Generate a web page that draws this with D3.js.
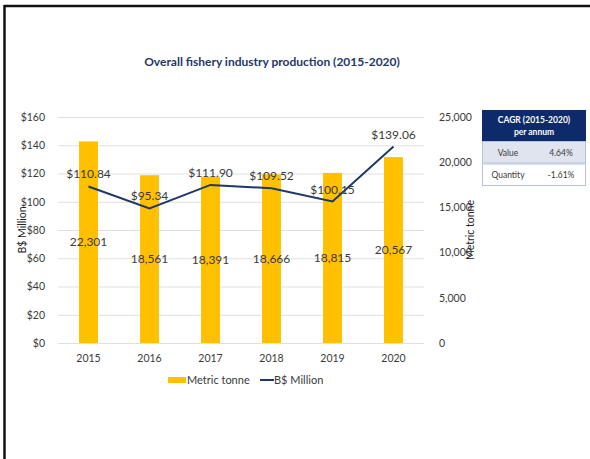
<!DOCTYPE html>
<html>
<head>
<meta charset="utf-8">
<script src="https://cdn.jsdelivr.net/npm/d3@7"></script>
<style>
  html, body { margin: 0; padding: 0; background: #fff; }
  svg { display: block; font-family: Lato, "Open Sans", sans-serif; }
</style>
</head>
<body>
<svg id="chart" width="590" height="459"></svg>
<script>
// Fishery production data, 2015-2020
const years = ["2015", "2016", "2017", "2018", "2019", "2020"];
const tonnes = [22301, 18561, 18391, 18666, 18815, 20567];     // Metric tonne (bars, right axis)
const valueMillions = [110.84, 95.34, 111.90, 109.52, 100.15, 139.06]; // B$ Million (line, left axis)
const leftTicks = [0, 20, 40, 60, 80, 100, 120, 140, 160];
const rightTicks = [0, 5000, 10000, 15000, 20000, 25000];
const cagrRows = [["Value", "4.64%"], ["Quantity", "-1.61%"]];

const svg = d3.select("#chart");
const navy = "#1f3864";
const gold = "#ffc000";
const textGrey = "#3a3a3a";

// Frame lines
svg.append("line").attr("x1", 4.5).attr("x2", 4.5).attr("y1", 5).attr("y2", 459)
  .attr("stroke", "#111").attr("stroke-width", 2.5);
svg.append("line").attr("x1", 4).attr("x2", 590).attr("y1", 6).attr("y2", 6)
  .attr("stroke", "#111").attr("stroke-width", 2.5);

// Title
svg.append("text").attr("x", 272).attr("y", 66).attr("text-anchor", "middle")
  .attr("font-size", 12).attr("font-weight", "bold").attr("fill", navy)
  .text("Overall fishery industry production (2015-2020)");

const plot = { left: 58, right: 424, top: 117, bottom: 343 };

const x = d3.scaleBand().domain(years).range([plot.left, plot.right]).paddingInner(0.69).paddingOuter(0.345);
const yL = d3.scaleLinear().domain([0, 160]).range([plot.bottom, plot.top]);
const yR = d3.scaleLinear().domain([0, 25000]).range([plot.bottom, plot.top]);

// Gridlines
svg.append("g").selectAll("line").data(leftTicks).join("line")
  .attr("x1", plot.left).attr("x2", plot.right)
  .attr("y1", d => yL(d) + 0.5).attr("y2", d => yL(d) + 0.5)
  .attr("stroke", "#e0e0e0").attr("stroke-width", 1);

// Left axis
const axL = svg.append("g").attr("transform", `translate(${plot.left - 10},0)`)
  .call(d3.axisLeft(yL).tickValues(leftTicks).tickSize(0).tickFormat(d => "$" + d));
axL.select(".domain").remove();
axL.selectAll("text").attr("font-size", 10.5).attr("fill", textGrey).attr("font-family", "Lato, sans-serif");

// Right axis
const axR = svg.append("g").attr("transform", `translate(${plot.right + 12},0)`)
  .call(d3.axisRight(yR).tickValues(rightTicks).tickSize(0).tickFormat(d3.format(",")));
axR.select(".domain").remove();
axR.selectAll("text").attr("font-size", 10.5).attr("fill", textGrey).attr("font-family", "Lato, sans-serif").attr("dx", 0);

// Bottom axis
const axB = svg.append("g").attr("transform", `translate(0,${plot.bottom + 9})`)
  .call(d3.axisBottom(x).tickSize(0));
axB.select(".domain").remove();
axB.selectAll("text").attr("font-size", 10.5).attr("fill", textGrey).attr("font-family", "Lato, sans-serif");

// Axis titles
svg.append("text").attr("transform", `translate(26,${(plot.top + plot.bottom) / 2}) rotate(-90)`)
  .attr("text-anchor", "middle").attr("font-size", 10.5).attr("fill", "#222").text("B$ Million");
svg.append("text").attr("transform", `translate(474,${(plot.top + plot.bottom) / 2}) rotate(-90)`)
  .attr("text-anchor", "middle").attr("font-size", 10.5).attr("fill", "#222").text("Metric tonne");

// Bars
svg.append("g").selectAll("rect").data(years).join("rect")
  .attr("x", d => x(d)).attr("width", x.bandwidth())
  .attr("y", (d, i) => yR(tonnes[i])).attr("height", (d, i) => plot.bottom - yR(tonnes[i]))
  .attr("fill", gold);

// Bar labels
svg.append("g").selectAll("text").data(years).join("text")
  .attr("x", d => x(d) + x.bandwidth() / 2)
  .attr("y", (d, i) => (yR(tonnes[i]) + plot.bottom) / 2 + 4)
  .attr("text-anchor", "middle").attr("font-size", 12).attr("fill", textGrey)
  .text((d, i) => d3.format(",")(tonnes[i]));

// Line
const line = d3.line().x((d, i) => x(years[i]) + x.bandwidth() / 2).y(d => yL(d));
svg.append("path").datum(valueMillions).attr("d", line)
  .attr("fill", "none").attr("stroke", navy).attr("stroke-width", 2);

// Line labels
svg.append("g").selectAll("text").data(valueMillions).join("text")
  .attr("x", (d, i) => x(years[i]) + x.bandwidth() / 2)
  .attr("y", d => yL(d) - 8)
  .attr("text-anchor", "middle").attr("font-size", 12).attr("fill", textGrey)
  .text(d => "$" + d.toFixed(2));

// Legend
const lg = svg.append("g").attr("transform", "translate(0,380)");
lg.append("rect").attr("x", 168).attr("y", -3).attr("width", 18).attr("height", 6).attr("fill", gold);
lg.append("text").attr("x", 187).attr("y", 4).attr("font-size", 11).attr("fill", textGrey).text("Metric tonne");
lg.append("line").attr("x1", 260).attr("x2", 274).attr("y1", 0).attr("y2", 0).attr("stroke", navy).attr("stroke-width", 2);
lg.append("text").attr("x", 274).attr("y", 4).attr("font-size", 11).attr("fill", textGrey).text("B$ Million");

// CAGR table
const tb = { x: 482, w: 104, headTop: 110, headH: 31, rowH: 22.5 };
const t = svg.append("g");
t.append("rect").attr("x", tb.x).attr("y", tb.headTop).attr("width", tb.w).attr("height", tb.headH).attr("fill", "#0d2a6a");
t.append("text").attr("x", tb.x + tb.w / 2).attr("y", tb.headTop + 13).attr("text-anchor", "middle")
  .attr("font-size", 8.5).attr("font-weight", "bold").attr("fill", "#fff").text("CAGR (2015-2020)");
t.append("text").attr("x", tb.x + tb.w / 2).attr("y", tb.headTop + 25).attr("text-anchor", "middle")
  .attr("font-size", 8.5).attr("font-weight", "bold").attr("fill", "#fff").text("per annum");
cagrRows.forEach((r, i) => {
  const y0 = tb.headTop + tb.headH + i * tb.rowH;
  t.append("rect").attr("x", tb.x + 0.5).attr("y", y0 + 0.5).attr("width", tb.w - 1).attr("height", tb.rowH - 1)
    .attr("fill", i === 0 ? "#dfe4ef" : "#fff").attr("stroke", "#b8c3d9").attr("stroke-width", 1);
  t.append("text").attr("x", tb.x + 26).attr("y", y0 + 14.5).attr("text-anchor", "middle")
    .attr("font-size", 8.5).attr("fill", textGrey).text(r[0]);
  t.append("text").attr("x", tb.x + 79).attr("y", y0 + 14.5).attr("text-anchor", "middle")
    .attr("font-size", 8.5).attr("fill", textGrey).text(r[1]);
});
</script>
</body>
</html>
